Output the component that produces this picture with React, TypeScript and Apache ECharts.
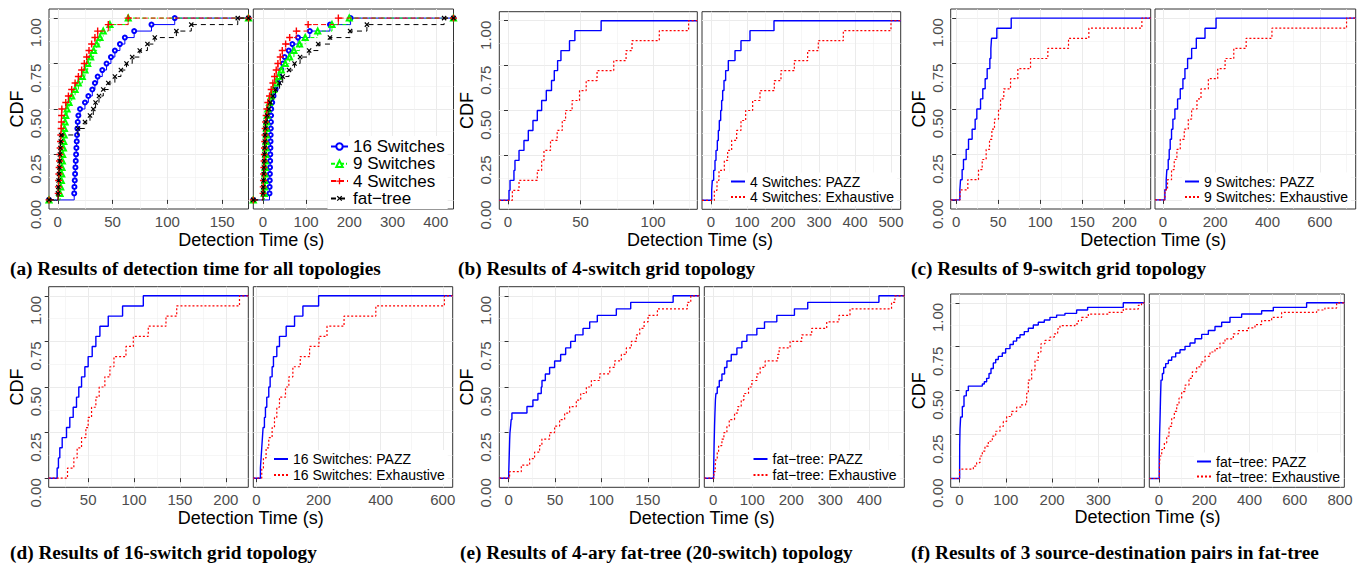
import React, { useEffect, useRef } from 'react';
import * as echarts from 'echarts';

const SANS = '"Liberation Sans", Arial, Helvetica, sans-serif';
const SERIF = '"Liberation Serif", "Times New Roman", serif';
const FT = 'fat\u2212tree';

// ---------- tick values ----------
const Y_MAJOR = [0, 0.25, 0.5, 0.75, 1];
const Y_MINOR = [0.125, 0.375, 0.625, 0.875];

// ---------- (a) detection time, all topologies (PAZZ) ----------
const A_L_16 = [15.0, 15.2, 15.5, 15.8, 16.1, 16.4, 16.7, 17.0, 17.3, 17.6, 17.9, 18.2, 18.8, 20.3, 24.8, 27.9, 31.5, 33.9, 36.4, 40.6, 44.5, 48.5, 52.1, 56.7, 61.2, 69.7, 85.5, 106.7];
const A_L_9 = [2.1, 2.7, 3.3, 3.6, 3.9, 4.2, 4.5, 5.2, 5.5, 5.8, 6.1, 6.7, 7.3, 8.5, 10.3, 12.7, 15.8, 18.8, 22.4, 24.8, 27.3, 30.0, 32.7, 35.5, 38.5, 41.5, 47.6, 64.3];
const A_L_4 = [0.4, 0.6, 0.8, 1.0, 1.3, 1.6, 1.9, 2.2, 2.5, 2.8, 3.1, 3.3, 3.5, 3.7, 7.3, 9.7, 12.7, 15.8, 18.8, 21.8, 24.2, 26.4, 28.5, 30.9, 33.9, 36.4, 46.1, 64.2];
const A_L_FT = [0.2, 0.5, 0.8, 1.1, 1.4, 1.7, 2.0, 2.4, 2.8, 3.2, 18.4, 24.8, 29.4, 32.4, 34.5, 37.6, 41.5, 46.1, 52.1, 57.6, 62.7, 67.9, 74.8, 81.8, 88.5, 108.2, 121.8, 164.2];
const A_R_16 = [15.5, 15.8, 16.1, 16.4, 16.7, 17.0, 17.3, 17.6, 17.9, 18.2, 18.5, 18.8, 19.1, 19.4, 21.7, 24.8, 29.5, 34.9, 38.8, 42.7, 46.6, 50.5, 60.0, 68.3, 81.5, 108.7, 155.3, 203.0];
const A_R_9 = [3.5, 4.0, 4.5, 5.0, 5.5, 6.0, 6.5, 7.0, 7.5, 8.0, 8.5, 9.0, 10.0, 11.6, 15.5, 19.4, 24.8, 31.0, 36.5, 42.7, 52.0, 62.0, 72.0, 85.0, 98.0, 127.0, 160.0, 200.0];
const A_R_4 = [0.5, 1.0, 1.5, 2.0, 2.5, 3.0, 3.5, 4.0, 4.5, 5.0, 5.5, 6.5, 7.8, 9.5, 11.6, 15.5, 19.4, 23.3, 27.2, 31.0, 34.9, 40.4, 45.0, 52.8, 62.1, 77.6, 104.8, 174.7];
const A_R_FT = [0.6, 1.1, 1.6, 2.1, 2.6, 3.1, 3.6, 4.1, 4.6, 5.1, 5.6, 6.5, 10.0, 14.0, 17.1, 23.3, 29.5, 38.8, 46.0, 60.6, 73.4, 86.2, 107.1, 128.1, 155.3, 201.9, 240.7, 419.3];

// ---------- (b) 4-switch grid ----------
const B_L_PAZZ = [0.7, 1.4, 4.1, 4.8, 7.6, 11.0, 14.0, 17.2, 20.2, 23.2, 26.4, 30.0, 31.9, 34.2, 36.5, 42.4, 46.1, 64.2];
const B_L_EXH = [3.0, 7.6, 20.2, 23.2, 24.8, 29.3, 33.9, 37.4, 39.7, 44.2, 49.3, 53.9, 61.4, 72.9, 81.4, 85.5, 104.3, 124.5];
const B_R_PAZZ = [1.9, 3.7, 7.4, 11.1, 13.9, 17.6, 20.4, 23.1, 26.9, 29.6, 32.4, 36.1, 40.7, 48.1, 66.7, 83.3, 108.3, 175.0];
const B_R_EXH = [9.3, 16.7, 22.2, 37.0, 46.3, 57.4, 71.3, 83.3, 96.3, 115.7, 136.1, 175.9, 194.4, 231.5, 268.5, 298.1, 367.6, 500.0];

// ---------- (c) 9-switch grid ----------
const C_L_PAZZ = [4.4, 5.2, 7.1, 8.7, 11.9, 14.7, 19.0, 22.6, 24.6, 29.0, 31.7, 34.5, 36.9, 40.1, 41.3, 42.1, 48.4, 65.5];
const C_L_EXH = [4.6, 13.9, 26.6, 31.0, 35.7, 39.7, 42.5, 45.6, 50.4, 52.8, 56.7, 64.7, 73.4, 88.5, 109.1, 133.7, 157.9, 221.0];
const C_R_PAZZ = [7.7, 12.8, 15.3, 20.5, 24.3, 28.1, 33.2, 38.4, 46.0, 56.3, 66.5, 76.7, 84.4, 94.6, 110.0, 127.9, 161.1, 203.3];
const C_R_EXH = [7.9, 17.9, 33.2, 43.5, 53.7, 66.5, 81.8, 97.2, 110.0, 130.4, 145.8, 173.9, 209.7, 237.9, 271.1, 318.4, 416.9, 702.0];

// ---------- (d) 16-switch grid ----------
const D_L_PAZZ = [16.2, 17.6, 19.1, 21.7, 26.4, 30.0, 33.7, 37.3, 39.8, 42.8, 46.4, 50.0, 54.4, 58.4, 62.8, 71.9, 87.5, 110.1];
const D_L_EXH = [27.5, 34.4, 38.0, 42.8, 47.5, 50.0, 53.7, 58.4, 62.0, 68.2, 73.7, 78.1, 91.2, 99.2, 115.5, 134.8, 146.5, 214.9];
const D_R_PAZZ = [12.9, 15.1, 17.2, 19.4, 21.5, 25.8, 29.1, 33.4, 39.8, 44.2, 50.6, 54.9, 65.7, 74.3, 95.9, 122.8, 149.7, 200.3];
const D_R_EXH = [17.2, 22.6, 31.2, 39.8, 50.6, 58.2, 65.7, 74.3, 93.7, 104.5, 117.4, 141.1, 171.2, 201.4, 227.3, 282.2, 384.5, 605.3];

// ---------- (e) 4-ary fat-tree ----------
const E_L_PAZZ = [0.2, 0.4, 0.6, 0.8, 1.0, 1.2, 1.5, 2.2, 2.8, 3.6, 19.8, 26.2, 31.6, 35.2, 36.0, 39.6, 44.2, 49.6, 56.1, 61.5, 66.9, 71.9, 80.2, 87.4, 95.6, 116.1, 131.6, 177.3];
const E_L_EXH = [1.1, 13.7, 22.7, 28.0, 33.4, 35.9, 44.2, 49.6, 55.0, 60.4, 65.8, 73.0, 77.7, 83.8, 89.2, 98.2, 109.0, 114.3, 121.5, 126.9, 132.3, 137.7, 141.3, 146.0, 150.3, 160.4, 192.7, 196.3];
const E_R_PAZZ = [0.9, 1.2, 1.5, 1.8, 2.1, 2.5, 2.9, 3.3, 3.8, 4.3, 4.9, 5.5, 6.8, 10.2, 15.4, 22.2, 29.0, 35.0, 46.1, 60.6, 73.4, 86.2, 111.8, 131.4, 163.0, 208.2, 242.3, 424.9];
const E_R_EXH = [1.7, 5.1, 6.8, 10.2, 13.7, 22.2, 27.3, 35.0, 41.0, 54.6, 63.1, 71.7, 78.5, 90.4, 99.0, 111.8, 120.3, 133.1, 165.5, 168.9, 197.1, 227.0, 252.6, 291.0, 322.5, 350.7, 457.3, 465.9];

// ---------- (f) 3 source-destination pairs (step times / CDF levels) ----------
const F_L_PAZZ_T = [0.3, 0.4, 1.1, 2.5, 6.1, 9.7, 14.7, 19.1, 49.3, 53.6, 58.6, 63.7, 68.0, 73.0, 78.1, 83.8, 92.4, 99.6, 109.0, 116.2, 123.4, 130.6, 139.9, 148.6, 159.4, 170.1, 183.1, 195.3, 209.7, 227.7, 252.9, 276.6, 353.6];
const F_L_PAZZ_P = [0.07, 0.18, 0.28, 0.35, 0.41, 0.47, 0.50, 0.526, 0.538, 0.551, 0.57, 0.598, 0.626, 0.658, 0.677, 0.695, 0.714, 0.739, 0.763, 0.782, 0.801, 0.818, 0.836, 0.855, 0.874, 0.889, 0.902, 0.917, 0.93, 0.94, 0.959, 0.974, 1.0];
const F_L_EXH_T = [0.0, 29.9, 37.0, 44.2, 49.3, 55.0, 62.2, 70.9, 78.1, 87.4, 94.6, 101.8, 112.6, 123.4, 132.7, 142.8, 145.0, 148.6, 155.8, 163.0, 170.1, 175.9, 184.5, 195.3, 204.7, 211.9, 216.9, 249.3, 256.5, 263.7, 278.1, 321.2, 353.6, 386.0, 393.0];
const F_L_EXH_P = [0.053, 0.071, 0.09, 0.128, 0.156, 0.184, 0.212, 0.241, 0.269, 0.297, 0.325, 0.353, 0.382, 0.406, 0.419, 0.429, 0.485, 0.56, 0.617, 0.673, 0.72, 0.767, 0.786, 0.805, 0.823, 0.852, 0.87, 0.88, 0.898, 0.917, 0.936, 0.945, 0.964, 0.985, 1.0];
const F_R_PAZZ_T = [0.8, 2.5, 4.4, 6.5, 8.8, 14.7, 20.6, 29.5, 41.2, 56.0, 73.6, 92.8, 114.9, 137.0, 159.0, 188.5, 218.0, 247.4, 276.9, 313.7, 365.2, 453.6, 505.2, 652.4];
const F_R_PAZZ_P = [0.12, 0.25, 0.335, 0.45, 0.56, 0.598, 0.632, 0.654, 0.673, 0.692, 0.714, 0.733, 0.752, 0.771, 0.795, 0.82, 0.842, 0.865, 0.889, 0.917, 0.936, 0.955, 0.974, 1.0];
const F_R_EXH_T = [1.5, 4.4, 11.8, 23.6, 33.9, 44.2, 56.0, 67.7, 78.1, 88.4, 100.1, 114.9, 132.5, 147.3, 166.4, 185.6, 203.2, 225.3, 247.4, 269.5, 291.6, 328.4, 350.5, 394.7, 424.2, 453.6, 497.8, 542.0, 696.6, 733.4, 785.0];
const F_R_EXH_P = [0.071, 0.128, 0.165, 0.203, 0.241, 0.297, 0.344, 0.382, 0.419, 0.457, 0.494, 0.532, 0.57, 0.607, 0.635, 0.664, 0.695, 0.72, 0.739, 0.771, 0.795, 0.823, 0.842, 0.857, 0.876, 0.898, 0.917, 0.945, 0.959, 0.97, 1.0];

// ---------- text ----------
const X_TITLE = 'Detection Time (s)';
const Y_TITLE = 'CDF';
const CAPTIONS = [
  '(a) Results of detection time for all topologies',
  '(b) Results of 4-switch grid topology',
  '(c) Results of 9-switch grid topology',
  '(d) Results of 16-switch grid topology',
  '(e) Results of 4-ary fat-tree (20-switch) topology',
  '(f) Results of 3 source-destination pairs in fat-tree',
];

// ---------- helpers ----------
function ecdf(samples: number[], lo: number, hi: number): number[][] {
  const s = [...samples].sort((a, b) => a - b);
  const n = s.length;
  const pts: number[][] = [[lo, 0]];
  s.forEach((v, i) => pts.push([v, (i + 1) / n]));
  pts.push([hi, 1]);
  return pts;
}
function steps(ts: number[], ps: number[], lo: number, hi: number): number[][] {
  const pts: number[][] = [[lo, 0]];
  ts.forEach((t, i) => pts.push([t, ps[i]]));
  pts.push([hi, 1]);
  return pts;
}

const PLUS = 'path://M4,0L6,0L6,4L10,4L10,6L6,6L6,10L4,10L4,6L0,6L0,4L4,4Z';

const STYLES: Record<string, any> = {
  pazz: { symbol: 'none', lineStyle: { color: '#0000FF', width: 1.4, type: 'solid' }, itemStyle: { color: '#0000FF' } },
  exh: { symbol: 'none', lineStyle: { color: '#FF0000', width: 1.2, type: [2, 2] }, itemStyle: { color: '#FF0000' } },
  s16: { symbol: 'emptyCircle', symbolSize: 4, lineStyle: { color: '#0000FF', width: 1, type: 'solid' }, itemStyle: { color: '#0000FF', borderColor: '#0000FF', borderWidth: 1 } },
  s9: { symbol: 'emptyTriangle', symbolSize: 5, lineStyle: { color: '#00FF00', width: 1, type: [4, 2, 1, 2] }, itemStyle: { color: '#00FF00', borderColor: '#00FF00', borderWidth: 1 } },
  s4: { symbol: PLUS, symbolSize: 7, lineStyle: { color: '#FF0000', width: 1, type: [5, 3] }, itemStyle: { color: '#FF0000', borderWidth: 0 } },
  ft: { symbol: PLUS, symbolSize: 6, symbolRotate: 45, lineStyle: { color: '#000000', width: 1, type: [5, 4] }, itemStyle: { color: '#000000', borderWidth: 0 } },
};

type SDef = { name: string; kind: string; samples?: number[]; t?: number[]; p?: number[] };
type Panel = { box: [number, number, number, number]; xr: [number, number]; xMajor: number[]; xMinor: number[]; yLabels: boolean; series: SDef[] };

const PZ = (s: string) => s + ': PAZZ';
const EX = (s: string) => s + ': Exhaustive';

const PANELS: Panel[] = [
  { box: [49, 9, 248.5, 209], xr: [-8, 174], xMajor: [0, 50, 100, 150], xMinor: [25, 75, 125], yLabels: true,
    series: [{ name: '16 Switches', kind: 's16', samples: A_L_16 }, { name: '9 Switches', kind: 's9', samples: A_L_9 }, { name: '4 Switches', kind: 's4', samples: A_L_4 }, { name: FT, kind: 'ft', samples: A_L_FT }] },
  { box: [253.3, 9, 453.5, 209], xr: [-22, 441], xMajor: [0, 100, 200, 300, 400], xMinor: [50, 150, 250, 350], yLabels: false,
    series: [{ name: '16 Switches', kind: 's16', samples: A_R_16 }, { name: '9 Switches', kind: 's9', samples: A_R_9 }, { name: '4 Switches', kind: 's4', samples: A_R_4 }, { name: FT, kind: 'ft', samples: A_R_FT }] },
  { box: [499.3, 11.7, 697.3, 209.3], xr: [-6, 130.5], xMajor: [0, 50, 100], xMinor: [25, 75, 125], yLabels: true,
    series: [{ name: PZ('4 Switches'), kind: 'pazz', samples: B_L_PAZZ }, { name: EX('4 Switches'), kind: 'exh', samples: B_L_EXH }] },
  { box: [702, 11.7, 900.7, 209.3], xr: [-25, 527], xMajor: [0, 100, 200, 300, 400, 500], xMinor: [50, 150, 250, 350, 450], yLabels: false,
    series: [{ name: PZ('4 Switches'), kind: 'pazz', samples: B_R_PAZZ }, { name: EX('4 Switches'), kind: 'exh', samples: B_R_EXH }] },
  { box: [950.7, 9, 1150.7, 209], xr: [-6.5, 231.5], xMajor: [0, 50, 100, 150, 200], xMinor: [25, 75, 125, 175, 225], yLabels: true,
    series: [{ name: PZ('9 Switches'), kind: 'pazz', samples: C_L_PAZZ }, { name: EX('9 Switches'), kind: 'exh', samples: C_L_EXH }] },
  { box: [1155, 9, 1355.7, 209], xr: [-30, 737], xMajor: [0, 200, 400, 600], xMinor: [100, 300, 500, 700], yLabels: false,
    series: [{ name: PZ('9 Switches'), kind: 'pazz', samples: C_R_PAZZ }, { name: EX('9 Switches'), kind: 'exh', samples: C_R_EXH }] },
  { box: [48.7, 286.7, 248.3, 487.3], xr: [7, 224.5], xMajor: [50, 100, 150, 200], xMinor: [25, 75, 125, 175], yLabels: true,
    series: [{ name: PZ('16 Switches'), kind: 'pazz', samples: D_L_PAZZ }, { name: EX('16 Switches'), kind: 'exh', samples: D_L_EXH }] },
  { box: [253.3, 286.7, 452.7, 487.3], xr: [-10, 632], xMajor: [0, 200, 400, 600], xMinor: [100, 300, 500], yLabels: false,
    series: [{ name: PZ('16 Switches'), kind: 'pazz', samples: D_R_PAZZ }, { name: EX('16 Switches'), kind: 'exh', samples: D_R_EXH }] },
  { box: [499.3, 286.7, 699.3, 487.3], xr: [-10, 205.5], xMajor: [0, 50, 100, 150], xMinor: [25, 75, 125, 175], yLabels: true,
    series: [{ name: PZ(FT), kind: 'pazz', samples: E_L_PAZZ }, { name: EX(FT), kind: 'exh', samples: E_L_EXH }] },
  { box: [704.3, 286.7, 904.3, 487.3], xr: [-23, 490], xMajor: [0, 100, 200, 300, 400], xMinor: [50, 150, 250, 350, 450], yLabels: false,
    series: [{ name: PZ(FT), kind: 'pazz', samples: E_R_PAZZ }, { name: EX(FT), kind: 'exh', samples: E_R_EXH }] },
  { box: [950.7, 294, 1144.3, 487.3], xr: [-19, 399], xMajor: [0, 100, 200, 300], xMinor: [50, 150, 250, 350], yLabels: true,
    series: [{ name: PZ(FT), kind: 'pazz', t: F_L_PAZZ_T, p: F_L_PAZZ_P }, { name: EX(FT), kind: 'exh', t: F_L_EXH_T, p: F_L_EXH_P }] },
  { box: [1149.3, 294, 1344.3, 487.3], xr: [-43, 819], xMajor: [0, 200, 400, 600, 800], xMinor: [100, 300, 500, 700], yLabels: false,
    series: [{ name: PZ(FT), kind: 'pazz', t: F_R_PAZZ_T, p: F_R_PAZZ_P }, { name: EX(FT), kind: 'exh', t: F_R_EXH_T, p: F_R_EXH_P }] },
];

const LEGENDS: { left: number; top: number; fs: number; gap: number; iw: number; markers: boolean; names: string[] }[] = [
  { left: 328, top: 136, fs: 17, gap: 0.3, iw: 17, markers: true, names: ['16 Switches', '9 Switches', '4 Switches', FT] },
  { left: 728, top: 172.5, fs: 14, gap: 1.6, iw: 14, markers: false, names: [PZ('4 Switches'), EX('4 Switches')] },
  { left: 1182, top: 172.5, fs: 14, gap: 1.6, iw: 14, markers: false, names: [PZ('9 Switches'), EX('9 Switches')] },
  { left: 271, top: 450, fs: 14, gap: 2, iw: 14, markers: false, names: [PZ('16 Switches'), EX('16 Switches')] },
  { left: 750.5, top: 450, fs: 14, gap: 2, iw: 14, markers: false, names: [PZ(FT), EX(FT)] },
  { left: 1194, top: 452.5, fs: 14, gap: 1, iw: 14, markers: false, names: [PZ(FT), EX(FT)] },
];

function buildOption() {
  const grid: any[] = [];
  const xAxis: any[] = [];
  const yAxis: any[] = [];
  const series: any[] = [];
  const graphic: any[] = [];

  PANELS.forEach((p, gi) => {
    const [l, t, r, b] = p.box;
    grid.push({ left: l, top: t, width: r - l, height: b - t, show: true, borderColor: '#333333', borderWidth: 1, backgroundColor: '#FFFFFF', z: 0 });
    xAxis.push({
      type: 'value', gridIndex: gi, min: p.xr[0], max: p.xr[1], position: 'bottom',
      axisLine: { show: false },
      axisTick: { show: true, length: 4, lineStyle: { color: '#333333', width: 1 }, customValues: p.xMajor },
      axisLabel: { show: true, customValues: p.xMajor, margin: 5, color: '#4D4D4D', fontSize: 15, fontFamily: SANS },
      splitLine: { show: true, lineStyle: { color: '#EBEBEB', width: 1 } },
    });
    xAxis.push({
      type: 'value', gridIndex: gi, min: p.xr[0], max: p.xr[1], position: 'top',
      axisLine: { show: false },
      axisTick: { show: false, customValues: p.xMinor },
      axisLabel: { show: false },
      splitLine: { show: true, lineStyle: { color: '#F0F0F0', width: 0.6 } },
    });
    yAxis.push({
      type: 'value', gridIndex: gi, min: -0.05, max: 1.05, position: 'left',
      axisLine: { show: false },
      axisTick: { show: p.yLabels, length: 4, lineStyle: { color: '#333333', width: 1 }, customValues: Y_MAJOR },
      axisLabel: {
        show: p.yLabels, customValues: Y_MAJOR, rotate: 90, align: 'right', verticalAlign: 'bottom', margin: 6,
        color: '#4D4D4D', fontSize: 15, fontFamily: SANS, formatter: (v: number) => v.toFixed(2),
      },
      splitLine: { show: true, lineStyle: { color: '#EBEBEB', width: 1 } },
    });
    yAxis.push({
      type: 'value', gridIndex: gi, min: -0.05, max: 1.05, position: 'right',
      axisLine: { show: false },
      axisTick: { show: false, customValues: Y_MINOR },
      axisLabel: { show: false },
      splitLine: { show: true, lineStyle: { color: '#F0F0F0', width: 0.6 } },
    });
    p.series.forEach((s, si) => {
      const st = STYLES[s.kind];
      const data = s.samples ? ecdf(s.samples, p.xr[0], p.xr[1]) : steps(s.t as number[], s.p as number[], p.xr[0], p.xr[1]);
      series.push({
        type: 'line', name: s.name, xAxisIndex: 2 * gi, yAxisIndex: 2 * gi, data, step: 'end',
        showSymbol: st.symbol !== 'none', symbol: st.symbol, symbolSize: st.symbolSize, symbolRotate: st.symbolRotate,
        lineStyle: st.lineStyle, itemStyle: st.itemStyle, silent: true, clip: true, z: 2 + si,
        emphasis: { disabled: true },
      });
    });
  });

  const legend = LEGENDS.map((lg) => {
    const base: any = {
      data: lg.names, orient: 'vertical', left: lg.left, top: lg.top,
      itemWidth: lg.iw, itemHeight: lg.markers ? 8 : 9, itemGap: lg.gap, selectedMode: false,
      backgroundColor: '#FFFFFF', padding: [2, 3, 2, 2],
      textStyle: { fontSize: lg.fs, fontFamily: SANS, color: '#000000' }, z: 10,
    };
    if (!lg.markers) base.itemStyle = { opacity: 0 };
    return base;
  });

  const pairs = [[0, 1], [2, 3], [4, 5], [6, 7], [8, 9], [10, 11]];
  const xTitleY = [240, 240, 240, 518, 518, 517];
  const capPos = [[10, 268], [458, 268], [911, 268], [10, 552], [460, 552], [911, 552]];
  pairs.forEach(([a, c], k) => {
    const L = PANELS[a].box;
    const R = PANELS[c].box;
    graphic.push({ type: 'text', x: (L[0] + R[2]) / 2, y: xTitleY[k], silent: true,
      style: { text: X_TITLE, fontSize: 18, fontFamily: SANS, fill: '#000000', align: 'center', verticalAlign: 'middle' } });
    graphic.push({ type: 'text', x: L[0] - 32, y: (L[1] + L[3]) / 2, rotation: Math.PI / 2, silent: true,
      style: { text: Y_TITLE, fontSize: 18, fontFamily: SANS, fill: '#000000', align: 'center', verticalAlign: 'middle' } });
    graphic.push({ type: 'text', x: capPos[k][0], y: capPos[k][1], silent: true,
      style: { text: CAPTIONS[k], fontSize: 19.3, fontWeight: 'bold', fontFamily: SERIF, fill: '#000000', align: 'left', verticalAlign: 'middle' } });
  });

  return { animation: false, backgroundColor: '#FFFFFF', grid, xAxis, yAxis, series, legend, graphic };
}

export default function App() {
  const ref = useRef<HTMLDivElement>(null);
  useEffect(() => {
    if (!ref.current) return;
    const chart = echarts.init(ref.current, undefined, { renderer: 'svg' });
    chart.setOption(buildOption() as any);
    return () => chart.dispose();
  }, []);
  return <div ref={ref} style={{ position: 'fixed', left: 0, top: 0, width: 1368, height: 566, background: '#fff' }} />;
}
